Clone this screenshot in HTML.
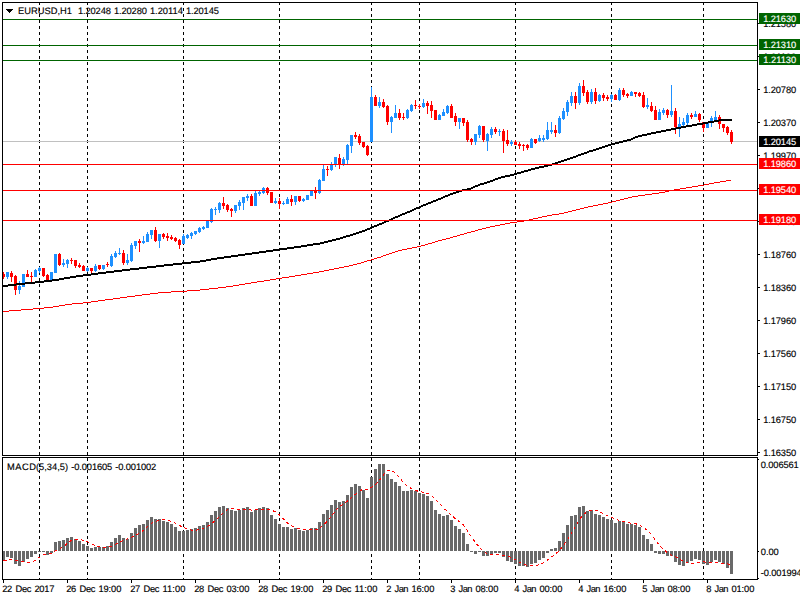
<!DOCTYPE html>
<html><head><meta charset="utf-8"><title>EURUSD,H1</title>
<style>html,body{margin:0;padding:0;background:#fff;overflow:hidden}svg{display:block}text{font-family:"Liberation Sans",sans-serif;font-size:9.33px;fill:#000;stroke:#000;stroke-width:0.15px;text-rendering:geometricPrecision}</style></head><body>
<svg width="800" height="600" viewBox="0 0 800 600">
<rect width="800" height="600" fill="#fff"/>
<g stroke="#000" stroke-width="1" stroke-dasharray="3,3" shape-rendering="crispEdges">
<line x1="39.5" y1="2" x2="39.5" y2="455"/>
<line x1="39.5" y1="458" x2="39.5" y2="579"/>
<line x1="87.5" y1="2" x2="87.5" y2="455"/>
<line x1="87.5" y1="458" x2="87.5" y2="579"/>
<line x1="183.5" y1="2" x2="183.5" y2="455"/>
<line x1="183.5" y1="458" x2="183.5" y2="579"/>
<line x1="279.5" y1="2" x2="279.5" y2="455"/>
<line x1="279.5" y1="458" x2="279.5" y2="579"/>
<line x1="371.5" y1="2" x2="371.5" y2="455"/>
<line x1="371.5" y1="458" x2="371.5" y2="579"/>
<line x1="419.5" y1="2" x2="419.5" y2="455"/>
<line x1="419.5" y1="458" x2="419.5" y2="579"/>
<line x1="515.5" y1="2" x2="515.5" y2="455"/>
<line x1="515.5" y1="458" x2="515.5" y2="579"/>
<line x1="611.5" y1="2" x2="611.5" y2="455"/>
<line x1="611.5" y1="458" x2="611.5" y2="579"/>
<line x1="703.5" y1="2" x2="703.5" y2="455"/>
<line x1="703.5" y1="458" x2="703.5" y2="579"/>
</g>
<rect x="3" y="141" width="754" height="1" fill="#c0c0c0" shape-rendering="crispEdges"/>
<g shape-rendering="crispEdges">
<rect x="3" y="272" width="1" height="7" fill="#ff0000"/>
<rect x="3" y="274" width="2" height="3" fill="#ff0000"/>
<rect x="7" y="272" width="1" height="7" fill="#1e90ff"/>
<rect x="6" y="272" width="3" height="5" fill="#1e90ff"/>
<rect x="11" y="271" width="1" height="11" fill="#ff0000"/>
<rect x="10" y="273" width="3" height="4" fill="#ff0000"/>
<rect x="15" y="275" width="1" height="20" fill="#ff0000"/>
<rect x="14" y="276" width="3" height="14" fill="#ff0000"/>
<rect x="19" y="281" width="1" height="13" fill="#1e90ff"/>
<rect x="18" y="286" width="3" height="4" fill="#1e90ff"/>
<rect x="23" y="274" width="1" height="13" fill="#1e90ff"/>
<rect x="22" y="274" width="3" height="13" fill="#1e90ff"/>
<rect x="27" y="270" width="1" height="7" fill="#ff0000"/>
<rect x="26" y="274" width="3" height="3" fill="#ff0000"/>
<rect x="31" y="272" width="1" height="10" fill="#ff0000"/>
<rect x="30" y="276" width="3" height="1" fill="#ff0000"/>
<rect x="35" y="269" width="1" height="8" fill="#1e90ff"/>
<rect x="34" y="270" width="3" height="7" fill="#1e90ff"/>
<rect x="39" y="267" width="1" height="6" fill="#1e90ff"/>
<rect x="38" y="268" width="3" height="3" fill="#1e90ff"/>
<rect x="43" y="268" width="1" height="9" fill="#ff0000"/>
<rect x="42" y="268" width="3" height="8" fill="#ff0000"/>
<rect x="47" y="274" width="1" height="6" fill="#ff0000"/>
<rect x="46" y="275" width="3" height="5" fill="#ff0000"/>
<rect x="51" y="272" width="1" height="8" fill="#1e90ff"/>
<rect x="50" y="272" width="3" height="8" fill="#1e90ff"/>
<rect x="55" y="254" width="1" height="19" fill="#1e90ff"/>
<rect x="54" y="254" width="3" height="19" fill="#1e90ff"/>
<rect x="59" y="253" width="1" height="13" fill="#ff0000"/>
<rect x="58" y="254" width="3" height="11" fill="#ff0000"/>
<rect x="63" y="259" width="1" height="8" fill="#1e90ff"/>
<rect x="62" y="263" width="3" height="2" fill="#1e90ff"/>
<rect x="67" y="259" width="1" height="9" fill="#1e90ff"/>
<rect x="66" y="260" width="3" height="4" fill="#1e90ff"/>
<rect x="71" y="258" width="1" height="6" fill="#ff0000"/>
<rect x="70" y="260" width="3" height="1" fill="#ff0000"/>
<rect x="75" y="260" width="1" height="8" fill="#ff0000"/>
<rect x="74" y="260" width="3" height="6" fill="#ff0000"/>
<rect x="79" y="263" width="1" height="5" fill="#ff0000"/>
<rect x="78" y="265" width="3" height="2" fill="#ff0000"/>
<rect x="83" y="265" width="1" height="6" fill="#ff0000"/>
<rect x="82" y="266" width="3" height="5" fill="#ff0000"/>
<rect x="87" y="267" width="1" height="5" fill="#1e90ff"/>
<rect x="86" y="268" width="3" height="3" fill="#1e90ff"/>
<rect x="91" y="268" width="1" height="5" fill="#ff0000"/>
<rect x="90" y="268" width="3" height="3" fill="#ff0000"/>
<rect x="95" y="264" width="1" height="8" fill="#1e90ff"/>
<rect x="94" y="266" width="3" height="5" fill="#1e90ff"/>
<rect x="99" y="265" width="1" height="5" fill="#ff0000"/>
<rect x="98" y="265" width="3" height="4" fill="#ff0000"/>
<rect x="103" y="265" width="1" height="5" fill="#1e90ff"/>
<rect x="102" y="265" width="3" height="4" fill="#1e90ff"/>
<rect x="107" y="262" width="1" height="5" fill="#ff0000"/>
<rect x="106" y="264" width="3" height="1" fill="#ff0000"/>
<rect x="111" y="254" width="1" height="13" fill="#1e90ff"/>
<rect x="110" y="256" width="3" height="10" fill="#1e90ff"/>
<rect x="115" y="251" width="1" height="7" fill="#1e90ff"/>
<rect x="114" y="253" width="3" height="4" fill="#1e90ff"/>
<rect x="119" y="248" width="1" height="7" fill="#1e90ff"/>
<rect x="118" y="253" width="3" height="1" fill="#1e90ff"/>
<rect x="123" y="250" width="1" height="15" fill="#ff0000"/>
<rect x="122" y="253" width="3" height="10" fill="#ff0000"/>
<rect x="127" y="254" width="1" height="11" fill="#1e90ff"/>
<rect x="126" y="260" width="3" height="3" fill="#1e90ff"/>
<rect x="131" y="243" width="1" height="19" fill="#1e90ff"/>
<rect x="130" y="245" width="3" height="16" fill="#1e90ff"/>
<rect x="135" y="241" width="1" height="8" fill="#1e90ff"/>
<rect x="134" y="241" width="3" height="5" fill="#1e90ff"/>
<rect x="139" y="239" width="1" height="13" fill="#ff0000"/>
<rect x="138" y="241" width="3" height="2" fill="#ff0000"/>
<rect x="143" y="236" width="1" height="8" fill="#1e90ff"/>
<rect x="142" y="241" width="3" height="2" fill="#1e90ff"/>
<rect x="147" y="232" width="1" height="10" fill="#1e90ff"/>
<rect x="146" y="234" width="3" height="8" fill="#1e90ff"/>
<rect x="151" y="230" width="1" height="9" fill="#1e90ff"/>
<rect x="150" y="230" width="3" height="5" fill="#1e90ff"/>
<rect x="155" y="227" width="1" height="15" fill="#ff0000"/>
<rect x="154" y="230" width="3" height="11" fill="#ff0000"/>
<rect x="159" y="234" width="1" height="14" fill="#1e90ff"/>
<rect x="158" y="234" width="3" height="7" fill="#1e90ff"/>
<rect x="163" y="233" width="1" height="6" fill="#ff0000"/>
<rect x="162" y="234" width="3" height="3" fill="#ff0000"/>
<rect x="167" y="233" width="1" height="8" fill="#ff0000"/>
<rect x="166" y="236" width="3" height="2" fill="#ff0000"/>
<rect x="171" y="235" width="1" height="5" fill="#ff0000"/>
<rect x="170" y="237" width="3" height="2" fill="#ff0000"/>
<rect x="175" y="237" width="1" height="5" fill="#ff0000"/>
<rect x="174" y="238" width="3" height="3" fill="#ff0000"/>
<rect x="179" y="239" width="1" height="10" fill="#ff0000"/>
<rect x="178" y="240" width="3" height="5" fill="#ff0000"/>
<rect x="183" y="234" width="1" height="10" fill="#1e90ff"/>
<rect x="182" y="236" width="3" height="8" fill="#1e90ff"/>
<rect x="187" y="234" width="1" height="5" fill="#1e90ff"/>
<rect x="186" y="235" width="3" height="3" fill="#1e90ff"/>
<rect x="191" y="232" width="1" height="7" fill="#1e90ff"/>
<rect x="190" y="233" width="3" height="3" fill="#1e90ff"/>
<rect x="195" y="231" width="1" height="4" fill="#1e90ff"/>
<rect x="194" y="231" width="3" height="3" fill="#1e90ff"/>
<rect x="199" y="227" width="1" height="6" fill="#1e90ff"/>
<rect x="198" y="228" width="3" height="4" fill="#1e90ff"/>
<rect x="203" y="226" width="1" height="4" fill="#1e90ff"/>
<rect x="202" y="227" width="3" height="2" fill="#1e90ff"/>
<rect x="207" y="221" width="1" height="7" fill="#1e90ff"/>
<rect x="206" y="221" width="3" height="7" fill="#1e90ff"/>
<rect x="211" y="208" width="1" height="15" fill="#1e90ff"/>
<rect x="210" y="209" width="3" height="13" fill="#1e90ff"/>
<rect x="215" y="207" width="1" height="8" fill="#1e90ff"/>
<rect x="214" y="209" width="3" height="1" fill="#1e90ff"/>
<rect x="219" y="202" width="1" height="11" fill="#1e90ff"/>
<rect x="218" y="203" width="3" height="7" fill="#1e90ff"/>
<rect x="223" y="197" width="1" height="12" fill="#ff0000"/>
<rect x="222" y="203" width="3" height="3" fill="#ff0000"/>
<rect x="227" y="204" width="1" height="8" fill="#ff0000"/>
<rect x="226" y="205" width="3" height="5" fill="#ff0000"/>
<rect x="231" y="208" width="1" height="9" fill="#ff0000"/>
<rect x="230" y="209" width="3" height="2" fill="#ff0000"/>
<rect x="235" y="205" width="1" height="8" fill="#1e90ff"/>
<rect x="234" y="205" width="3" height="6" fill="#1e90ff"/>
<rect x="239" y="200" width="1" height="10" fill="#1e90ff"/>
<rect x="238" y="202" width="3" height="4" fill="#1e90ff"/>
<rect x="243" y="197" width="1" height="13" fill="#1e90ff"/>
<rect x="242" y="197" width="3" height="6" fill="#1e90ff"/>
<rect x="247" y="194" width="1" height="7" fill="#1e90ff"/>
<rect x="246" y="196" width="3" height="2" fill="#1e90ff"/>
<rect x="251" y="194" width="1" height="12" fill="#ff0000"/>
<rect x="250" y="196" width="3" height="10" fill="#ff0000"/>
<rect x="255" y="191" width="1" height="15" fill="#1e90ff"/>
<rect x="254" y="193" width="3" height="13" fill="#1e90ff"/>
<rect x="259" y="191" width="1" height="5" fill="#1e90ff"/>
<rect x="258" y="192" width="3" height="2" fill="#1e90ff"/>
<rect x="263" y="187" width="1" height="7" fill="#1e90ff"/>
<rect x="262" y="188" width="3" height="5" fill="#1e90ff"/>
<rect x="267" y="187" width="1" height="8" fill="#ff0000"/>
<rect x="266" y="188" width="3" height="5" fill="#ff0000"/>
<rect x="271" y="192" width="1" height="11" fill="#ff0000"/>
<rect x="270" y="192" width="3" height="11" fill="#ff0000"/>
<rect x="275" y="198" width="1" height="6" fill="#1e90ff"/>
<rect x="274" y="201" width="3" height="2" fill="#1e90ff"/>
<rect x="279" y="198" width="1" height="11" fill="#ff0000"/>
<rect x="278" y="201" width="3" height="3" fill="#ff0000"/>
<rect x="283" y="201" width="1" height="4" fill="#1e90ff"/>
<rect x="282" y="203" width="3" height="1" fill="#1e90ff"/>
<rect x="287" y="197" width="1" height="7" fill="#1e90ff"/>
<rect x="286" y="199" width="3" height="5" fill="#1e90ff"/>
<rect x="291" y="195" width="1" height="11" fill="#ff0000"/>
<rect x="290" y="199" width="3" height="3" fill="#ff0000"/>
<rect x="295" y="196" width="1" height="9" fill="#1e90ff"/>
<rect x="294" y="196" width="3" height="6" fill="#1e90ff"/>
<rect x="299" y="196" width="1" height="6" fill="#ff0000"/>
<rect x="298" y="196" width="3" height="5" fill="#ff0000"/>
<rect x="303" y="198" width="1" height="4" fill="#1e90ff"/>
<rect x="302" y="199" width="3" height="2" fill="#1e90ff"/>
<rect x="307" y="195" width="1" height="5" fill="#1e90ff"/>
<rect x="306" y="195" width="3" height="5" fill="#1e90ff"/>
<rect x="311" y="191" width="1" height="5" fill="#1e90ff"/>
<rect x="310" y="191" width="3" height="5" fill="#1e90ff"/>
<rect x="315" y="187" width="1" height="12" fill="#ff0000"/>
<rect x="314" y="190" width="3" height="3" fill="#ff0000"/>
<rect x="319" y="179" width="1" height="15" fill="#1e90ff"/>
<rect x="318" y="180" width="3" height="13" fill="#1e90ff"/>
<rect x="323" y="165" width="1" height="16" fill="#1e90ff"/>
<rect x="322" y="169" width="3" height="12" fill="#1e90ff"/>
<rect x="327" y="166" width="1" height="10" fill="#ff0000"/>
<rect x="326" y="169" width="3" height="1" fill="#ff0000"/>
<rect x="331" y="162" width="1" height="9" fill="#1e90ff"/>
<rect x="330" y="165" width="3" height="5" fill="#1e90ff"/>
<rect x="335" y="157" width="1" height="10" fill="#1e90ff"/>
<rect x="334" y="157" width="3" height="7" fill="#1e90ff"/>
<rect x="339" y="154" width="1" height="15" fill="#ff0000"/>
<rect x="338" y="158" width="3" height="7" fill="#ff0000"/>
<rect x="343" y="157" width="1" height="9" fill="#1e90ff"/>
<rect x="342" y="159" width="3" height="5" fill="#1e90ff"/>
<rect x="347" y="144" width="1" height="20" fill="#1e90ff"/>
<rect x="346" y="145" width="3" height="15" fill="#1e90ff"/>
<rect x="351" y="135" width="1" height="18" fill="#1e90ff"/>
<rect x="350" y="135" width="3" height="11" fill="#1e90ff"/>
<rect x="355" y="132" width="1" height="7" fill="#ff0000"/>
<rect x="354" y="135" width="3" height="2" fill="#ff0000"/>
<rect x="359" y="134" width="1" height="11" fill="#ff0000"/>
<rect x="358" y="136" width="3" height="7" fill="#ff0000"/>
<rect x="363" y="142" width="1" height="6" fill="#ff0000"/>
<rect x="362" y="142" width="3" height="5" fill="#ff0000"/>
<rect x="367" y="145" width="1" height="11" fill="#ff0000"/>
<rect x="366" y="146" width="3" height="9" fill="#ff0000"/>
<rect x="371" y="87" width="1" height="55" fill="#1e90ff"/>
<rect x="370" y="97" width="3" height="45" fill="#1e90ff"/>
<rect x="375" y="95" width="1" height="11" fill="#ff0000"/>
<rect x="374" y="97" width="3" height="9" fill="#ff0000"/>
<rect x="379" y="97" width="1" height="11" fill="#1e90ff"/>
<rect x="378" y="102" width="3" height="4" fill="#1e90ff"/>
<rect x="383" y="99" width="1" height="9" fill="#ff0000"/>
<rect x="382" y="102" width="3" height="5" fill="#ff0000"/>
<rect x="387" y="105" width="1" height="20" fill="#ff0000"/>
<rect x="386" y="106" width="3" height="16" fill="#ff0000"/>
<rect x="391" y="116" width="1" height="17" fill="#1e90ff"/>
<rect x="390" y="117" width="3" height="5" fill="#1e90ff"/>
<rect x="395" y="105" width="1" height="13" fill="#1e90ff"/>
<rect x="394" y="113" width="3" height="5" fill="#1e90ff"/>
<rect x="399" y="109" width="1" height="11" fill="#ff0000"/>
<rect x="398" y="113" width="3" height="5" fill="#ff0000"/>
<rect x="403" y="113" width="1" height="7" fill="#ff0000"/>
<rect x="402" y="117" width="3" height="1" fill="#ff0000"/>
<rect x="407" y="109" width="1" height="10" fill="#1e90ff"/>
<rect x="406" y="110" width="3" height="8" fill="#1e90ff"/>
<rect x="411" y="104" width="1" height="8" fill="#1e90ff"/>
<rect x="410" y="105" width="3" height="6" fill="#1e90ff"/>
<rect x="415" y="100" width="1" height="9" fill="#ff0000"/>
<rect x="414" y="105" width="3" height="1" fill="#ff0000"/>
<rect x="419" y="104" width="1" height="5" fill="#ff0000"/>
<rect x="418" y="106" width="3" height="1" fill="#ff0000"/>
<rect x="423" y="99" width="1" height="9" fill="#1e90ff"/>
<rect x="422" y="103" width="3" height="4" fill="#1e90ff"/>
<rect x="427" y="101" width="1" height="13" fill="#ff0000"/>
<rect x="426" y="103" width="3" height="3" fill="#ff0000"/>
<rect x="431" y="101" width="1" height="17" fill="#ff0000"/>
<rect x="430" y="105" width="3" height="6" fill="#ff0000"/>
<rect x="435" y="110" width="1" height="10" fill="#ff0000"/>
<rect x="434" y="110" width="3" height="10" fill="#ff0000"/>
<rect x="439" y="114" width="1" height="6" fill="#1e90ff"/>
<rect x="438" y="115" width="3" height="5" fill="#1e90ff"/>
<rect x="443" y="109" width="1" height="7" fill="#1e90ff"/>
<rect x="442" y="112" width="3" height="4" fill="#1e90ff"/>
<rect x="447" y="105" width="1" height="9" fill="#1e90ff"/>
<rect x="446" y="106" width="3" height="7" fill="#1e90ff"/>
<rect x="451" y="104" width="1" height="14" fill="#ff0000"/>
<rect x="450" y="106" width="3" height="12" fill="#ff0000"/>
<rect x="455" y="113" width="1" height="13" fill="#ff0000"/>
<rect x="454" y="116" width="3" height="6" fill="#ff0000"/>
<rect x="459" y="118" width="1" height="11" fill="#1e90ff"/>
<rect x="458" y="118" width="3" height="4" fill="#1e90ff"/>
<rect x="463" y="118" width="1" height="8" fill="#ff0000"/>
<rect x="462" y="118" width="3" height="5" fill="#ff0000"/>
<rect x="467" y="120" width="1" height="22" fill="#ff0000"/>
<rect x="466" y="122" width="3" height="18" fill="#ff0000"/>
<rect x="471" y="138" width="1" height="7" fill="#ff0000"/>
<rect x="470" y="139" width="3" height="3" fill="#ff0000"/>
<rect x="475" y="134" width="1" height="11" fill="#1e90ff"/>
<rect x="474" y="134" width="3" height="8" fill="#1e90ff"/>
<rect x="479" y="125" width="1" height="13" fill="#1e90ff"/>
<rect x="478" y="126" width="3" height="9" fill="#1e90ff"/>
<rect x="483" y="126" width="1" height="16" fill="#ff0000"/>
<rect x="482" y="126" width="3" height="14" fill="#ff0000"/>
<rect x="487" y="133" width="1" height="18" fill="#1e90ff"/>
<rect x="486" y="134" width="3" height="7" fill="#1e90ff"/>
<rect x="491" y="127" width="1" height="11" fill="#1e90ff"/>
<rect x="490" y="129" width="3" height="6" fill="#1e90ff"/>
<rect x="495" y="127" width="1" height="7" fill="#ff0000"/>
<rect x="494" y="129" width="3" height="3" fill="#ff0000"/>
<rect x="499" y="129" width="1" height="7" fill="#1e90ff"/>
<rect x="498" y="131" width="3" height="1" fill="#1e90ff"/>
<rect x="503" y="129" width="1" height="24" fill="#ff0000"/>
<rect x="502" y="131" width="3" height="10" fill="#ff0000"/>
<rect x="507" y="130" width="1" height="16" fill="#ff0000"/>
<rect x="506" y="140" width="3" height="4" fill="#ff0000"/>
<rect x="511" y="140" width="1" height="6" fill="#1e90ff"/>
<rect x="510" y="142" width="3" height="2" fill="#1e90ff"/>
<rect x="515" y="140" width="1" height="5" fill="#ff0000"/>
<rect x="514" y="142" width="3" height="3" fill="#ff0000"/>
<rect x="519" y="142" width="1" height="7" fill="#ff0000"/>
<rect x="518" y="144" width="3" height="2" fill="#ff0000"/>
<rect x="523" y="144" width="1" height="7" fill="#ff0000"/>
<rect x="522" y="145" width="3" height="1" fill="#ff0000"/>
<rect x="527" y="144" width="1" height="6" fill="#ff0000"/>
<rect x="526" y="145" width="3" height="3" fill="#ff0000"/>
<rect x="531" y="138" width="1" height="10" fill="#1e90ff"/>
<rect x="530" y="139" width="3" height="9" fill="#1e90ff"/>
<rect x="535" y="139" width="1" height="5" fill="#ff0000"/>
<rect x="534" y="139" width="3" height="4" fill="#ff0000"/>
<rect x="539" y="135" width="1" height="7" fill="#1e90ff"/>
<rect x="538" y="138" width="3" height="3" fill="#1e90ff"/>
<rect x="543" y="135" width="1" height="7" fill="#1e90ff"/>
<rect x="542" y="138" width="3" height="2" fill="#1e90ff"/>
<rect x="547" y="122" width="1" height="18" fill="#1e90ff"/>
<rect x="546" y="130" width="3" height="9" fill="#1e90ff"/>
<rect x="551" y="122" width="1" height="12" fill="#1e90ff"/>
<rect x="550" y="130" width="3" height="2" fill="#1e90ff"/>
<rect x="555" y="125" width="1" height="12" fill="#ff0000"/>
<rect x="554" y="130" width="3" height="3" fill="#ff0000"/>
<rect x="559" y="116" width="1" height="18" fill="#1e90ff"/>
<rect x="558" y="118" width="3" height="15" fill="#1e90ff"/>
<rect x="563" y="108" width="1" height="12" fill="#1e90ff"/>
<rect x="562" y="111" width="3" height="8" fill="#1e90ff"/>
<rect x="567" y="100" width="1" height="16" fill="#1e90ff"/>
<rect x="566" y="102" width="3" height="10" fill="#1e90ff"/>
<rect x="571" y="92" width="1" height="14" fill="#1e90ff"/>
<rect x="570" y="96" width="3" height="7" fill="#1e90ff"/>
<rect x="575" y="92" width="1" height="17" fill="#ff0000"/>
<rect x="574" y="96" width="3" height="7" fill="#ff0000"/>
<rect x="579" y="83" width="1" height="22" fill="#1e90ff"/>
<rect x="578" y="86" width="3" height="17" fill="#1e90ff"/>
<rect x="583" y="80" width="1" height="16" fill="#ff0000"/>
<rect x="582" y="86" width="3" height="7" fill="#ff0000"/>
<rect x="587" y="90" width="1" height="14" fill="#ff0000"/>
<rect x="586" y="92" width="3" height="10" fill="#ff0000"/>
<rect x="591" y="89" width="1" height="15" fill="#1e90ff"/>
<rect x="590" y="92" width="3" height="10" fill="#1e90ff"/>
<rect x="595" y="88" width="1" height="16" fill="#ff0000"/>
<rect x="594" y="92" width="3" height="9" fill="#ff0000"/>
<rect x="599" y="94" width="1" height="8" fill="#1e90ff"/>
<rect x="598" y="95" width="3" height="6" fill="#1e90ff"/>
<rect x="603" y="93" width="1" height="8" fill="#ff0000"/>
<rect x="602" y="95" width="3" height="3" fill="#ff0000"/>
<rect x="607" y="95" width="1" height="6" fill="#ff0000"/>
<rect x="606" y="97" width="3" height="2" fill="#ff0000"/>
<rect x="611" y="94" width="1" height="8" fill="#1e90ff"/>
<rect x="610" y="95" width="3" height="4" fill="#1e90ff"/>
<rect x="615" y="94" width="1" height="6" fill="#ff0000"/>
<rect x="614" y="95" width="3" height="5" fill="#ff0000"/>
<rect x="619" y="88" width="1" height="13" fill="#1e90ff"/>
<rect x="618" y="90" width="3" height="10" fill="#1e90ff"/>
<rect x="623" y="88" width="1" height="9" fill="#ff0000"/>
<rect x="622" y="90" width="3" height="5" fill="#ff0000"/>
<rect x="627" y="93" width="1" height="5" fill="#ff0000"/>
<rect x="626" y="94" width="3" height="2" fill="#ff0000"/>
<rect x="631" y="91" width="1" height="5" fill="#1e90ff"/>
<rect x="630" y="92" width="3" height="4" fill="#1e90ff"/>
<rect x="635" y="92" width="1" height="5" fill="#ff0000"/>
<rect x="634" y="92" width="3" height="2" fill="#ff0000"/>
<rect x="639" y="92" width="1" height="5" fill="#ff0000"/>
<rect x="638" y="93" width="3" height="3" fill="#ff0000"/>
<rect x="643" y="92" width="1" height="16" fill="#ff0000"/>
<rect x="642" y="95" width="3" height="12" fill="#ff0000"/>
<rect x="647" y="98" width="1" height="11" fill="#1e90ff"/>
<rect x="646" y="105" width="3" height="2" fill="#1e90ff"/>
<rect x="651" y="102" width="1" height="10" fill="#ff0000"/>
<rect x="650" y="106" width="3" height="5" fill="#ff0000"/>
<rect x="655" y="106" width="1" height="14" fill="#ff0000"/>
<rect x="654" y="110" width="3" height="10" fill="#ff0000"/>
<rect x="659" y="109" width="1" height="11" fill="#1e90ff"/>
<rect x="658" y="112" width="3" height="8" fill="#1e90ff"/>
<rect x="663" y="108" width="1" height="7" fill="#1e90ff"/>
<rect x="662" y="110" width="3" height="3" fill="#1e90ff"/>
<rect x="667" y="109" width="1" height="9" fill="#ff0000"/>
<rect x="666" y="110" width="3" height="5" fill="#ff0000"/>
<rect x="671" y="85" width="1" height="32" fill="#1e90ff"/>
<rect x="670" y="111" width="3" height="4" fill="#1e90ff"/>
<rect x="675" y="108" width="1" height="26" fill="#ff0000"/>
<rect x="674" y="111" width="3" height="16" fill="#ff0000"/>
<rect x="679" y="117" width="1" height="20" fill="#1e90ff"/>
<rect x="678" y="124" width="3" height="3" fill="#1e90ff"/>
<rect x="683" y="118" width="1" height="8" fill="#1e90ff"/>
<rect x="682" y="122" width="3" height="3" fill="#1e90ff"/>
<rect x="687" y="113" width="1" height="12" fill="#1e90ff"/>
<rect x="686" y="115" width="3" height="8" fill="#1e90ff"/>
<rect x="691" y="113" width="1" height="6" fill="#ff0000"/>
<rect x="690" y="115" width="3" height="2" fill="#ff0000"/>
<rect x="695" y="111" width="1" height="6" fill="#1e90ff"/>
<rect x="694" y="114" width="3" height="3" fill="#1e90ff"/>
<rect x="699" y="113" width="1" height="9" fill="#ff0000"/>
<rect x="698" y="114" width="3" height="6" fill="#ff0000"/>
<rect x="703" y="122" width="1" height="10" fill="#ff0000"/>
<rect x="702" y="122" width="3" height="6" fill="#ff0000"/>
<rect x="707" y="122" width="1" height="6" fill="#1e90ff"/>
<rect x="706" y="123" width="3" height="5" fill="#1e90ff"/>
<rect x="711" y="116" width="1" height="11" fill="#1e90ff"/>
<rect x="710" y="118" width="3" height="5" fill="#1e90ff"/>
<rect x="715" y="111" width="1" height="9" fill="#1e90ff"/>
<rect x="714" y="117" width="3" height="3" fill="#1e90ff"/>
<rect x="719" y="115" width="1" height="14" fill="#ff0000"/>
<rect x="718" y="117" width="3" height="7" fill="#ff0000"/>
<rect x="723" y="124" width="1" height="8" fill="#ff0000"/>
<rect x="722" y="124" width="3" height="4" fill="#ff0000"/>
<rect x="727" y="126" width="1" height="9" fill="#ff0000"/>
<rect x="726" y="127" width="3" height="6" fill="#ff0000"/>
<rect x="731" y="130" width="1" height="14" fill="#ff0000"/>
<rect x="730" y="132" width="3" height="10" fill="#ff0000"/>
</g>
<path d="M3,311h6v1h-6zM9,310h12v1h-12zM21,309h12v1h-12zM33,308h11v1h-11zM44,307h9v1h-9zM53,306h6v1h-6zM59,305h6v1h-6zM65,304h7v1h-7zM72,303h11v1h-11zM83,302h8v1h-8zM91,301h7v1h-7zM98,300h7v1h-7zM105,299h8v1h-8zM113,298h7v1h-7zM120,297h7v1h-7zM127,296h8v1h-8zM135,295h7v1h-7zM142,294h8v1h-8zM150,293h8v1h-8zM158,292h13v1h-13zM171,291h16v1h-16zM187,290h13v1h-13zM200,289h9v1h-9zM209,288h9v1h-9zM218,287h8v1h-8zM226,286h7v1h-7zM233,285h6v1h-6zM239,284h6v1h-6zM245,283h6v1h-6zM251,282h6v1h-6zM257,281h7v1h-7zM264,280h6v1h-6zM270,279h6v1h-6zM276,278h6v1h-6zM282,277h7v1h-7zM289,276h6v1h-6zM295,275h6v1h-6zM301,274h6v1h-6zM307,273h6v1h-6zM313,272h6v1h-6zM319,271h5v1h-5zM324,270h5v1h-5zM329,269h5v1h-5zM334,268h5v1h-5zM339,267h5v1h-5zM344,266h5v1h-5zM349,265h4v1h-4zM353,264h4v1h-4zM357,263h4v1h-4zM361,262h3v1h-3zM364,261h3v1h-3zM367,260h4v1h-4zM371,259h3v1h-3zM374,258h3v1h-3zM377,257h4v1h-4zM381,256h2v1h-2zM383,255h3v1h-3zM386,254h3v1h-3zM389,253h3v1h-3zM392,252h3v1h-3zM395,251h3v1h-3zM398,250h4v1h-4zM402,249h5v1h-5zM407,248h5v1h-5zM412,247h5v1h-5zM417,246h4v1h-4zM421,245h4v1h-4zM425,244h3v1h-3zM428,243h4v1h-4zM432,242h3v1h-3zM435,241h3v1h-3zM438,240h4v1h-4zM442,239h4v1h-4zM446,238h4v1h-4zM450,237h3v1h-3zM453,236h4v1h-4zM457,235h3v1h-3zM460,234h4v1h-4zM464,233h3v1h-3zM467,232h4v1h-4zM471,231h4v1h-4zM475,230h3v1h-3zM478,229h4v1h-4zM482,228h4v1h-4zM486,227h4v1h-4zM490,226h5v1h-5zM495,225h5v1h-5zM500,224h5v1h-5zM505,223h5v1h-5zM510,222h7v1h-7zM517,221h7v1h-7zM524,220h5v1h-5zM529,219h4v1h-4zM533,218h5v1h-5zM538,217h4v1h-4zM542,216h5v1h-5zM547,215h5v1h-5zM552,214h7v1h-7zM559,213h5v1h-5zM564,212h4v1h-4zM568,211h4v1h-4zM572,210h4v1h-4zM576,209h4v1h-4zM580,208h4v1h-4zM584,207h4v1h-4zM588,206h5v1h-5zM593,205h5v1h-5zM598,204h5v1h-5zM603,203h5v1h-5zM608,202h4v1h-4zM612,201h4v1h-4zM616,200h4v1h-4zM620,199h4v1h-4zM624,198h4v1h-4zM628,197h4v1h-4zM632,196h6v1h-6zM638,195h7v1h-7zM645,194h7v1h-7zM652,193h7v1h-7zM659,192h6v1h-6zM665,191h4v1h-4zM669,190h5v1h-5zM674,189h6v1h-6zM680,188h6v1h-6zM686,187h6v1h-6zM692,186h6v1h-6zM698,185h6v1h-6zM704,184h5v1h-5zM709,183h5v1h-5zM714,182h6v1h-6zM720,181h6v1h-6zM726,180h5v1h-5z" fill="#ff0000" shape-rendering="crispEdges"/>
<path d="M3,285h5v2h-5zM8,284h8v2h-8zM16,283h9v2h-9zM25,282h10v2h-10zM35,281h9v2h-9zM44,280h8v2h-8zM52,279h7v2h-7zM59,278h5v2h-5zM64,277h6v2h-6zM70,276h6v2h-6zM76,275h7v2h-7zM83,274h8v2h-8zM91,273h7v2h-7zM98,272h8v2h-8zM106,271h8v2h-8zM114,270h8v2h-8zM122,269h8v2h-8zM130,268h9v2h-9zM139,267h8v2h-8zM147,266h9v2h-9zM156,265h8v2h-8zM164,264h9v2h-9zM173,263h9v2h-9zM182,262h9v2h-9zM191,261h9v2h-9zM200,260h6v2h-6zM206,259h5v2h-5zM211,258h6v2h-6zM217,257h7v2h-7zM224,256h7v2h-7zM231,255h7v2h-7zM238,254h7v2h-7zM245,253h7v2h-7zM252,252h7v2h-7zM259,251h7v2h-7zM266,250h7v2h-7zM273,249h7v2h-7zM280,248h7v2h-7zM287,247h7v2h-7zM294,246h7v2h-7zM301,245h6v2h-6zM307,244h6v2h-6zM313,243h7v2h-7zM320,242h4v2h-4zM324,241h4v2h-4zM328,240h4v2h-4zM332,239h4v2h-4zM336,238h4v2h-4zM340,237h3v2h-3zM343,236h3v2h-3zM346,235h4v2h-4zM350,234h3v2h-3zM353,233h3v2h-3zM356,232h3v2h-3zM359,231h3v2h-3zM362,230h3v2h-3zM365,229h2v2h-2zM367,228h3v2h-3zM370,227h2v2h-2zM372,226h2v2h-2zM374,225h3v2h-3zM377,224h2v2h-2zM379,223h3v2h-3zM382,222h2v2h-2zM384,221h2v2h-2zM386,220h3v2h-3zM389,219h2v2h-2zM391,218h2v2h-2zM393,217h2v2h-2zM395,216h3v2h-3zM398,215h2v2h-2zM400,214h2v2h-2zM402,213h3v2h-3zM405,212h2v2h-2zM407,211h3v2h-3zM410,210h2v2h-2zM412,209h2v2h-2zM414,208h2v2h-2zM416,207h3v2h-3zM419,206h2v2h-2zM421,205h2v2h-2zM423,204h3v2h-3zM426,203h2v2h-2zM428,202h3v2h-3zM431,201h2v2h-2zM433,200h3v2h-3zM436,199h2v2h-2zM438,198h3v2h-3zM441,197h2v2h-2zM443,196h2v2h-2zM445,195h3v2h-3zM448,194h2v2h-2zM450,193h3v2h-3zM453,192h3v2h-3zM456,191h3v2h-3zM459,190h3v2h-3zM462,189h5v2h-5zM467,188h4v2h-4zM471,187h2v2h-2zM473,186h2v2h-2zM475,185h3v2h-3zM478,184h2v2h-2zM480,183h4v2h-4zM484,182h3v2h-3zM487,181h3v2h-3zM490,180h3v2h-3zM493,179h2v2h-2zM495,178h3v2h-3zM498,177h3v2h-3zM501,176h4v2h-4zM505,175h5v2h-5zM510,174h4v2h-4zM514,173h3v2h-3zM517,172h4v2h-4zM521,171h3v2h-3zM524,170h4v2h-4zM528,169h3v2h-3zM531,168h4v2h-4zM535,167h4v2h-4zM539,166h5v2h-5zM544,165h4v2h-4zM548,164h4v2h-4zM552,163h3v2h-3zM555,162h3v2h-3zM558,161h3v2h-3zM561,160h3v2h-3zM564,159h3v2h-3zM567,158h3v2h-3zM570,157h3v2h-3zM573,156h3v2h-3zM576,155h2v2h-2zM578,154h3v2h-3zM581,153h3v2h-3zM584,152h3v2h-3zM587,151h2v2h-2zM589,150h4v2h-4zM593,149h3v2h-3zM596,148h3v2h-3zM599,147h3v2h-3zM602,146h3v2h-3zM605,145h3v2h-3zM608,144h3v2h-3zM611,143h4v2h-4zM615,142h4v2h-4zM619,141h4v2h-4zM623,140h4v2h-4zM627,139h4v2h-4zM631,138h2v2h-2zM633,137h2v2h-2zM635,136h3v2h-3zM638,135h4v2h-4zM642,134h5v2h-5zM647,133h4v2h-4zM651,132h5v2h-5zM656,131h5v2h-5zM661,130h5v2h-5zM666,129h5v2h-5zM671,128h5v2h-5zM676,127h5v2h-5zM681,126h5v2h-5zM686,125h6v2h-6zM692,124h5v2h-5zM697,123h6v2h-6zM703,122h5v2h-5zM708,121h6v2h-6zM714,120h5v2h-5zM719,119h13v2h-13z" fill="#000" shape-rendering="crispEdges"/>
<g shape-rendering="crispEdges">
<rect x="3" y="19" width="754" height="1" fill="#006400"/>
<rect x="3" y="45" width="754" height="1" fill="#006400"/>
<rect x="3" y="60" width="754" height="1" fill="#006400"/>
<rect x="3" y="164" width="754" height="1" fill="#ff0000"/>
<rect x="3" y="190" width="754" height="1" fill="#ff0000"/>
<rect x="3" y="220" width="754" height="1" fill="#ff0000"/>
</g>
<g shape-rendering="crispEdges" fill="#696969">
<rect x="3" y="551" width="2" height="9"/>
<rect x="6" y="551" width="3" height="6"/>
<rect x="10" y="551" width="3" height="7"/>
<rect x="14" y="551" width="3" height="13"/>
<rect x="18" y="551" width="3" height="15"/>
<rect x="22" y="551" width="3" height="11"/>
<rect x="26" y="551" width="3" height="8"/>
<rect x="30" y="551" width="3" height="6"/>
<rect x="34" y="551" width="3" height="3"/>
<rect x="38" y="551" width="3" height="1"/>
<rect x="42" y="551" width="3" height="1"/>
<rect x="46" y="551" width="3" height="4"/>
<rect x="50" y="551" width="3" height="2"/>
<rect x="54" y="542" width="3" height="9"/>
<rect x="58" y="541" width="3" height="10"/>
<rect x="62" y="540" width="3" height="11"/>
<rect x="66" y="538" width="3" height="13"/>
<rect x="70" y="537" width="3" height="14"/>
<rect x="74" y="539" width="3" height="12"/>
<rect x="78" y="541" width="3" height="10"/>
<rect x="82" y="544" width="3" height="7"/>
<rect x="86" y="546" width="3" height="5"/>
<rect x="90" y="548" width="3" height="3"/>
<rect x="94" y="547" width="3" height="4"/>
<rect x="98" y="547" width="3" height="4"/>
<rect x="102" y="547" width="3" height="4"/>
<rect x="106" y="546" width="3" height="5"/>
<rect x="110" y="542" width="3" height="9"/>
<rect x="114" y="538" width="3" height="13"/>
<rect x="118" y="535" width="3" height="16"/>
<rect x="122" y="538" width="3" height="13"/>
<rect x="126" y="539" width="3" height="12"/>
<rect x="130" y="533" width="3" height="18"/>
<rect x="134" y="528" width="3" height="23"/>
<rect x="138" y="525" width="3" height="26"/>
<rect x="142" y="524" width="3" height="27"/>
<rect x="146" y="520" width="3" height="31"/>
<rect x="150" y="517" width="3" height="34"/>
<rect x="154" y="519" width="3" height="32"/>
<rect x="158" y="519" width="3" height="32"/>
<rect x="162" y="521" width="3" height="30"/>
<rect x="166" y="522" width="3" height="29"/>
<rect x="170" y="524" width="3" height="27"/>
<rect x="174" y="527" width="3" height="24"/>
<rect x="178" y="531" width="3" height="20"/>
<rect x="182" y="531" width="3" height="20"/>
<rect x="186" y="530" width="3" height="21"/>
<rect x="190" y="529" width="3" height="22"/>
<rect x="194" y="528" width="3" height="23"/>
<rect x="198" y="526" width="3" height="25"/>
<rect x="202" y="525" width="3" height="26"/>
<rect x="206" y="522" width="3" height="29"/>
<rect x="210" y="515" width="3" height="36"/>
<rect x="214" y="511" width="3" height="40"/>
<rect x="218" y="507" width="3" height="44"/>
<rect x="222" y="506" width="3" height="45"/>
<rect x="226" y="508" width="3" height="43"/>
<rect x="230" y="510" width="3" height="41"/>
<rect x="234" y="511" width="3" height="40"/>
<rect x="238" y="510" width="3" height="41"/>
<rect x="242" y="508" width="3" height="43"/>
<rect x="246" y="507" width="3" height="44"/>
<rect x="250" y="512" width="3" height="39"/>
<rect x="254" y="510" width="3" height="41"/>
<rect x="258" y="508" width="3" height="43"/>
<rect x="262" y="507" width="3" height="44"/>
<rect x="266" y="508" width="3" height="43"/>
<rect x="270" y="515" width="3" height="36"/>
<rect x="274" y="519" width="3" height="32"/>
<rect x="278" y="524" width="3" height="27"/>
<rect x="282" y="527" width="3" height="24"/>
<rect x="286" y="527" width="3" height="24"/>
<rect x="290" y="529" width="3" height="22"/>
<rect x="294" y="528" width="3" height="23"/>
<rect x="298" y="530" width="3" height="21"/>
<rect x="302" y="531" width="3" height="20"/>
<rect x="306" y="530" width="3" height="21"/>
<rect x="310" y="528" width="3" height="23"/>
<rect x="314" y="528" width="3" height="23"/>
<rect x="318" y="522" width="3" height="29"/>
<rect x="322" y="514" width="3" height="37"/>
<rect x="326" y="510" width="3" height="41"/>
<rect x="330" y="505" width="3" height="46"/>
<rect x="334" y="500" width="3" height="51"/>
<rect x="338" y="502" width="3" height="49"/>
<rect x="342" y="501" width="3" height="50"/>
<rect x="346" y="495" width="3" height="56"/>
<rect x="350" y="487" width="3" height="64"/>
<rect x="354" y="484" width="3" height="67"/>
<rect x="358" y="486" width="3" height="65"/>
<rect x="362" y="490" width="3" height="61"/>
<rect x="366" y="498" width="3" height="53"/>
<rect x="370" y="477" width="3" height="74"/>
<rect x="374" y="469" width="3" height="82"/>
<rect x="378" y="464" width="3" height="87"/>
<rect x="382" y="464" width="3" height="87"/>
<rect x="386" y="474" width="3" height="77"/>
<rect x="390" y="479" width="3" height="72"/>
<rect x="394" y="482" width="3" height="69"/>
<rect x="398" y="486" width="3" height="65"/>
<rect x="402" y="491" width="3" height="60"/>
<rect x="406" y="491" width="3" height="60"/>
<rect x="410" y="490" width="3" height="61"/>
<rect x="414" y="491" width="3" height="60"/>
<rect x="418" y="493" width="3" height="58"/>
<rect x="422" y="494" width="3" height="57"/>
<rect x="426" y="496" width="3" height="55"/>
<rect x="430" y="501" width="3" height="50"/>
<rect x="434" y="510" width="3" height="41"/>
<rect x="438" y="514" width="3" height="37"/>
<rect x="442" y="516" width="3" height="35"/>
<rect x="446" y="515" width="3" height="36"/>
<rect x="450" y="520" width="3" height="31"/>
<rect x="454" y="526" width="3" height="25"/>
<rect x="458" y="529" width="3" height="22"/>
<rect x="462" y="533" width="3" height="18"/>
<rect x="466" y="544" width="3" height="7"/>
<rect x="470" y="551" width="3" height="1"/>
<rect x="474" y="551" width="3" height="3"/>
<rect x="478" y="551" width="3" height="1"/>
<rect x="482" y="551" width="3" height="5"/>
<rect x="486" y="551" width="3" height="5"/>
<rect x="490" y="551" width="3" height="3"/>
<rect x="494" y="551" width="3" height="2"/>
<rect x="498" y="551" width="3" height="2"/>
<rect x="502" y="551" width="3" height="6"/>
<rect x="506" y="551" width="3" height="10"/>
<rect x="510" y="551" width="3" height="11"/>
<rect x="514" y="551" width="3" height="13"/>
<rect x="518" y="551" width="3" height="15"/>
<rect x="522" y="551" width="3" height="15"/>
<rect x="526" y="551" width="3" height="16"/>
<rect x="530" y="551" width="3" height="13"/>
<rect x="534" y="551" width="3" height="12"/>
<rect x="538" y="551" width="3" height="9"/>
<rect x="542" y="551" width="3" height="7"/>
<rect x="546" y="551" width="3" height="2"/>
<rect x="550" y="549" width="3" height="2"/>
<rect x="554" y="548" width="3" height="3"/>
<rect x="558" y="541" width="3" height="10"/>
<rect x="562" y="533" width="3" height="18"/>
<rect x="566" y="525" width="3" height="26"/>
<rect x="570" y="516" width="3" height="35"/>
<rect x="574" y="515" width="3" height="36"/>
<rect x="578" y="507" width="3" height="44"/>
<rect x="582" y="506" width="3" height="45"/>
<rect x="586" y="511" width="3" height="40"/>
<rect x="590" y="510" width="3" height="41"/>
<rect x="594" y="514" width="3" height="37"/>
<rect x="598" y="515" width="3" height="36"/>
<rect x="602" y="517" width="3" height="34"/>
<rect x="606" y="519" width="3" height="32"/>
<rect x="610" y="520" width="3" height="31"/>
<rect x="614" y="523" width="3" height="28"/>
<rect x="618" y="521" width="3" height="30"/>
<rect x="622" y="522" width="3" height="29"/>
<rect x="626" y="524" width="3" height="27"/>
<rect x="630" y="524" width="3" height="27"/>
<rect x="634" y="525" width="3" height="26"/>
<rect x="638" y="527" width="3" height="24"/>
<rect x="642" y="535" width="3" height="16"/>
<rect x="646" y="539" width="3" height="12"/>
<rect x="650" y="544" width="3" height="7"/>
<rect x="654" y="551" width="3" height="2"/>
<rect x="658" y="551" width="3" height="3"/>
<rect x="662" y="551" width="3" height="3"/>
<rect x="666" y="551" width="3" height="5"/>
<rect x="670" y="551" width="3" height="5"/>
<rect x="674" y="551" width="3" height="11"/>
<rect x="678" y="551" width="3" height="14"/>
<rect x="682" y="551" width="3" height="15"/>
<rect x="686" y="551" width="3" height="12"/>
<rect x="690" y="551" width="3" height="10"/>
<rect x="694" y="551" width="3" height="8"/>
<rect x="698" y="551" width="3" height="9"/>
<rect x="702" y="551" width="3" height="13"/>
<rect x="706" y="551" width="3" height="14"/>
<rect x="710" y="551" width="3" height="11"/>
<rect x="714" y="551" width="3" height="9"/>
<rect x="718" y="551" width="3" height="11"/>
<rect x="722" y="551" width="3" height="13"/>
<rect x="726" y="551" width="3" height="17"/>
<rect x="730" y="551" width="3" height="23"/>
</g>
<polyline points="3.5,560.5 7.5,559.9 11.5,559.5 15.5,560.3 19.5,561.5 23.5,561.9 27.5,562.3 31.5,562.1 35.5,560.1 39.5,557.1 43.5,554.9 47.5,554.1 51.5,553.3 55.5,550.9 59.5,548.9 63.5,546.7 67.5,543.3 71.5,540.1 75.5,539.5 79.5,539.5 83.5,540.3 87.5,541.9 91.5,544.1 95.5,545.7 99.5,546.9 103.5,547.5 107.5,547.5 111.5,546.3 115.5,544.5 119.5,542.1 123.5,540.3 127.5,538.9 131.5,537.1 135.5,535.1 139.5,533.1 143.5,530.3 147.5,526.5 151.5,523.3 155.5,521.5 159.5,520.3 163.5,519.7 167.5,520.1 171.5,521.5 175.5,523.1 179.5,525.5 183.5,527.5 187.5,529.1 191.5,530.1 195.5,530.3 199.5,529.3 203.5,528.1 207.5,526.5 211.5,523.7 215.5,520.3 219.5,516.5 223.5,512.7 227.5,509.9 231.5,508.9 235.5,508.9 239.5,509.5 243.5,509.9 247.5,509.7 251.5,510.1 255.5,509.9 259.5,509.5 263.5,509.3 267.5,509.5 271.5,510.1 275.5,511.9 279.5,515.1 283.5,519.1 287.5,522.9 291.5,525.7 295.5,527.5 299.5,528.7 303.5,529.5 307.5,530.1 311.5,529.9 315.5,529.9 319.5,528.3 323.5,524.9 327.5,520.9 331.5,516.3 335.5,510.7 339.5,506.7 343.5,504.1 347.5,501.1 351.5,497.5 355.5,494.3 359.5,491.1 363.5,488.9 367.5,489.5 371.5,487.5 375.5,484.5 379.5,480.1 383.5,474.9 387.5,470.1 391.5,470.5 395.5,473.1 399.5,477.5 403.5,482.9 407.5,486.3 411.5,488.5 415.5,490.3 419.5,491.7 423.5,492.3 427.5,493.3 431.5,495.5 435.5,499.3 439.5,503.5 443.5,507.9 447.5,511.7 451.5,515.5 455.5,518.7 459.5,521.7 463.5,525.1 467.5,530.9 471.5,537.1 475.5,542.7 479.5,547.1 483.5,551.7 487.5,554.1 491.5,554.7 495.5,554.5 499.5,554.9 503.5,555.1 507.5,556.1 511.5,557.7 515.5,559.9 519.5,562.5 523.5,564.3 527.5,565.5 531.5,565.9 535.5,565.7 539.5,564.5 543.5,562.9 547.5,560.1 551.5,557.1 555.5,554.1 559.5,550.3 563.5,545.3 567.5,539.7 571.5,533.1 575.5,526.5 579.5,519.7 583.5,514.3 587.5,511.5 591.5,510.3 595.5,510.1 599.5,511.7 603.5,513.9 607.5,515.5 611.5,517.5 615.5,519.3 619.5,520.5 623.5,521.5 627.5,522.5 631.5,523.3 635.5,523.7 639.5,524.9 643.5,527.5 647.5,530.5 651.5,534.5 655.5,540.1 659.5,545.5 663.5,549.3 667.5,552.7 671.5,555.1 675.5,556.9 679.5,559.1 683.5,561.5 687.5,562.9 691.5,563.9 695.5,563.3 699.5,562.3 703.5,561.9 707.5,562.3 711.5,562.5 715.5,562.7 719.5,563.1 723.5,563.1 727.5,563.7 731.5,566.1" fill="none" stroke="#ff0000" stroke-width="1" stroke-dasharray="3,3" shape-rendering="crispEdges"/>
<g fill="#000" shape-rendering="crispEdges">
<rect x="2" y="2" width="756" height="1"/>
<rect x="2" y="2" width="1" height="454"/>
<rect x="2" y="455" width="756" height="1"/>
<rect x="2" y="457" width="756" height="1"/>
<rect x="2" y="457" width="1" height="123"/>
<rect x="2" y="579" width="756" height="1"/>
<rect x="757" y="2" width="1" height="454"/><rect x="757" y="457" width="1" height="123"/>
<rect x="757" y="23" width="3" height="1"/>
<rect x="757" y="56" width="3" height="1"/>
<rect x="757" y="89" width="3" height="1"/>
<rect x="757" y="122" width="3" height="1"/>
<rect x="757" y="155" width="3" height="1"/>
<rect x="757" y="188" width="3" height="1"/>
<rect x="757" y="221" width="3" height="1"/>
<rect x="757" y="254" width="3" height="1"/>
<rect x="757" y="287" width="3" height="1"/>
<rect x="757" y="320" width="3" height="1"/>
<rect x="757" y="353" width="3" height="1"/>
<rect x="757" y="386" width="3" height="1"/>
<rect x="757" y="419" width="3" height="1"/>
<rect x="757" y="452" width="3" height="1"/>
<rect x="757" y="459" width="2" height="1"/>
<rect x="757" y="551" width="2" height="1"/>
<rect x="757" y="578" width="2" height="1"/>
<rect x="3" y="580" width="1" height="3"/>
<rect x="67" y="580" width="1" height="3"/>
<rect x="131" y="580" width="1" height="3"/>
<rect x="195" y="580" width="1" height="3"/>
<rect x="259" y="580" width="1" height="3"/>
<rect x="323" y="580" width="1" height="3"/>
<rect x="387" y="580" width="1" height="3"/>
<rect x="451" y="580" width="1" height="3"/>
<rect x="515" y="580" width="1" height="3"/>
<rect x="579" y="580" width="1" height="3"/>
<rect x="643" y="580" width="1" height="3"/>
<rect x="707" y="580" width="1" height="3"/>
<rect x="6" y="9" width="7" height="1"/><rect x="7" y="10" width="5" height="1"/><rect x="8" y="11" width="3" height="1"/><rect x="9" y="12" width="1" height="1"/>
</g>
<text x="763.2" y="27" transform="matrix(1 0 0 1 0 0)" textLength="33" lengthAdjust="spacing">1.21580</text>
<text x="763.2" y="60" transform="matrix(1 0 0 1 0 0)" textLength="33" lengthAdjust="spacing">1.21180</text>
<text x="763.2" y="93" transform="matrix(1 0 0 1 0 0)" textLength="33" lengthAdjust="spacing">1.20780</text>
<text x="763.2" y="126" transform="matrix(1 0 0 1 0 0)" textLength="33" lengthAdjust="spacing">1.20370</text>
<text x="763.2" y="159" transform="matrix(1 0 0 1 0 0)" textLength="33" lengthAdjust="spacing">1.19970</text>
<text x="763.2" y="192" transform="matrix(1 0 0 1 0 0)" textLength="33" lengthAdjust="spacing">1.19560</text>
<text x="763.2" y="225" transform="matrix(1 0 0 1 0 0)" textLength="33" lengthAdjust="spacing">1.19160</text>
<text x="763.2" y="258" transform="matrix(1 0 0 1 0 0)" textLength="33" lengthAdjust="spacing">1.18760</text>
<text x="763.2" y="291" transform="matrix(1 0 0 1 0 0)" textLength="33" lengthAdjust="spacing">1.18360</text>
<text x="763.2" y="324" transform="matrix(1 0 0 1 0 0)" textLength="33" lengthAdjust="spacing">1.17960</text>
<text x="763.2" y="357" transform="matrix(1 0 0 1 0 0)" textLength="33" lengthAdjust="spacing">1.17560</text>
<text x="763.2" y="390" transform="matrix(1 0 0 1 0 0)" textLength="33" lengthAdjust="spacing">1.17150</text>
<text x="763.2" y="423" transform="matrix(1 0 0 1 0 0)" textLength="33" lengthAdjust="spacing">1.16750</text>
<text x="763.2" y="456" transform="matrix(1 0 0 1 0 0)" textLength="33" lengthAdjust="spacing">1.16350</text>
<text x="760.8" y="468" transform="matrix(1 0 0 1 0 0)" textLength="38" lengthAdjust="spacing">0.006561</text>
<text x="760.8" y="555" transform="matrix(1 0 0 1 0 0)" textLength="18" lengthAdjust="spacing">0.00</text>
<text x="760.8" y="576" transform="matrix(1 0 0 1 0 0)" textLength="41" lengthAdjust="spacing">-0.001994</text>
<rect x="759" y="13" width="41" height="11" fill="#006400" shape-rendering="crispEdges"/>
<text x="763.2" y="22" transform="matrix(1 0 0 1 0 0)" textLength="33" lengthAdjust="spacing" style="fill:#fff;stroke:#fff">1.21630</text>
<rect x="759" y="39" width="41" height="11" fill="#006400" shape-rendering="crispEdges"/>
<text x="763.2" y="48" transform="matrix(1 0 0 1 0 0)" textLength="33" lengthAdjust="spacing" style="fill:#fff;stroke:#fff">1.21310</text>
<rect x="759" y="54" width="41" height="11" fill="#006400" shape-rendering="crispEdges"/>
<text x="763.2" y="63" transform="matrix(1 0 0 1 0 0)" textLength="33" lengthAdjust="spacing" style="fill:#fff;stroke:#fff">1.21130</text>
<rect x="759" y="136" width="41" height="11" fill="#000" shape-rendering="crispEdges"/>
<text x="763.2" y="145" transform="matrix(1 0 0 1 0 0)" textLength="33" lengthAdjust="spacing" style="fill:#fff;stroke:#fff">1.20145</text>
<rect x="759" y="158" width="41" height="11" fill="#ff0000" shape-rendering="crispEdges"/>
<text x="763.2" y="167" transform="matrix(1 0 0 1 0 0)" textLength="33" lengthAdjust="spacing" style="fill:#fff;stroke:#fff">1.19860</text>
<rect x="759" y="184" width="41" height="11" fill="#ff0000" shape-rendering="crispEdges"/>
<text x="763.2" y="193" transform="matrix(1 0 0 1 0 0)" textLength="33" lengthAdjust="spacing" style="fill:#fff;stroke:#fff">1.19540</text>
<rect x="759" y="214" width="41" height="11" fill="#ff0000" shape-rendering="crispEdges"/>
<text x="763.2" y="223" transform="matrix(1 0 0 1 0 0)" textLength="33" lengthAdjust="spacing" style="fill:#fff;stroke:#fff">1.19180</text>
<text x="18" y="14" transform="matrix(1 0 0 1 0 0)" textLength="54" lengthAdjust="spacing">EURUSD,H1</text>
<text x="77.9" y="14" transform="matrix(1 0 0 1 0 0)" textLength="33" lengthAdjust="spacing">1.20248</text>
<text x="113.9" y="14" transform="matrix(1 0 0 1 0 0)" textLength="33" lengthAdjust="spacing">1.20280</text>
<text x="149.9" y="14" transform="matrix(1 0 0 1 0 0)" textLength="33" lengthAdjust="spacing">1.20114</text>
<text x="185.9" y="14" transform="matrix(1 0 0 1 0 0)" textLength="33" lengthAdjust="spacing">1.20145</text>
<text x="7" y="470" transform="matrix(1 0 0 1 0 0)" textLength="29" lengthAdjust="spacing">MACD</text>
<text x="36" y="470" transform="matrix(1 0 0 1 0 0)" textLength="32" lengthAdjust="spacing">(5,34,5)</text>
<text x="71.3" y="470" transform="matrix(1 0 0 1 0 0)" textLength="41" lengthAdjust="spacing">-0.001605</text>
<text x="115.3" y="470" transform="matrix(1 0 0 1 0 0)" textLength="41" lengthAdjust="spacing">-0.001002</text>
<text x="2.2" y="592" transform="matrix(1 0 0 1 0 0)" textLength="10" lengthAdjust="spacing">22</text>
<text x="15.5" y="592" transform="matrix(1 0 0 1 0 0)" textLength="16" lengthAdjust="spacing">Dec</text>
<text x="34.400000000000006" y="592" transform="matrix(1 0 0 1 0 0)" textLength="20" lengthAdjust="spacing">2017</text>
<text x="66.2" y="592" transform="matrix(1 0 0 1 0 0)" textLength="10" lengthAdjust="spacing">26</text>
<text x="79.5" y="592" transform="matrix(1 0 0 1 0 0)" textLength="16" lengthAdjust="spacing">Dec</text>
<text x="98.4" y="592" transform="matrix(1 0 0 1 0 0)" textLength="23" lengthAdjust="spacing">19:00</text>
<text x="130.2" y="592" transform="matrix(1 0 0 1 0 0)" textLength="10" lengthAdjust="spacing">27</text>
<text x="143.5" y="592" transform="matrix(1 0 0 1 0 0)" textLength="16" lengthAdjust="spacing">Dec</text>
<text x="162.39999999999998" y="592" transform="matrix(1 0 0 1 0 0)" textLength="23" lengthAdjust="spacing">11:00</text>
<text x="194.2" y="592" transform="matrix(1 0 0 1 0 0)" textLength="10" lengthAdjust="spacing">28</text>
<text x="207.5" y="592" transform="matrix(1 0 0 1 0 0)" textLength="16" lengthAdjust="spacing">Dec</text>
<text x="226.39999999999998" y="592" transform="matrix(1 0 0 1 0 0)" textLength="23" lengthAdjust="spacing">03:00</text>
<text x="258.2" y="592" transform="matrix(1 0 0 1 0 0)" textLength="10" lengthAdjust="spacing">28</text>
<text x="271.5" y="592" transform="matrix(1 0 0 1 0 0)" textLength="16" lengthAdjust="spacing">Dec</text>
<text x="290.4" y="592" transform="matrix(1 0 0 1 0 0)" textLength="23" lengthAdjust="spacing">19:00</text>
<text x="322.2" y="592" transform="matrix(1 0 0 1 0 0)" textLength="10" lengthAdjust="spacing">29</text>
<text x="335.5" y="592" transform="matrix(1 0 0 1 0 0)" textLength="16" lengthAdjust="spacing">Dec</text>
<text x="354.4" y="592" transform="matrix(1 0 0 1 0 0)" textLength="23" lengthAdjust="spacing">11:00</text>
<text x="386.2" y="592" transform="matrix(1 0 0 1 0 0)" textLength="5" lengthAdjust="spacing">2</text>
<text x="394.5" y="592" transform="matrix(1 0 0 1 0 0)" textLength="14" lengthAdjust="spacing">Jan</text>
<text x="411.4" y="592" transform="matrix(1 0 0 1 0 0)" textLength="23" lengthAdjust="spacing">16:00</text>
<text x="450.2" y="592" transform="matrix(1 0 0 1 0 0)" textLength="5" lengthAdjust="spacing">3</text>
<text x="458.5" y="592" transform="matrix(1 0 0 1 0 0)" textLength="14" lengthAdjust="spacing">Jan</text>
<text x="475.4" y="592" transform="matrix(1 0 0 1 0 0)" textLength="23" lengthAdjust="spacing">08:00</text>
<text x="514.2" y="592" transform="matrix(1 0 0 1 0 0)" textLength="5" lengthAdjust="spacing">4</text>
<text x="522.5" y="592" transform="matrix(1 0 0 1 0 0)" textLength="14" lengthAdjust="spacing">Jan</text>
<text x="539.4000000000001" y="592" transform="matrix(1 0 0 1 0 0)" textLength="23" lengthAdjust="spacing">00:00</text>
<text x="578.2" y="592" transform="matrix(1 0 0 1 0 0)" textLength="5" lengthAdjust="spacing">4</text>
<text x="586.5" y="592" transform="matrix(1 0 0 1 0 0)" textLength="14" lengthAdjust="spacing">Jan</text>
<text x="603.4000000000001" y="592" transform="matrix(1 0 0 1 0 0)" textLength="23" lengthAdjust="spacing">16:00</text>
<text x="642.2" y="592" transform="matrix(1 0 0 1 0 0)" textLength="5" lengthAdjust="spacing">5</text>
<text x="650.5" y="592" transform="matrix(1 0 0 1 0 0)" textLength="14" lengthAdjust="spacing">Jan</text>
<text x="667.4000000000001" y="592" transform="matrix(1 0 0 1 0 0)" textLength="23" lengthAdjust="spacing">08:00</text>
<text x="706.2" y="592" transform="matrix(1 0 0 1 0 0)" textLength="5" lengthAdjust="spacing">8</text>
<text x="714.5" y="592" transform="matrix(1 0 0 1 0 0)" textLength="14" lengthAdjust="spacing">Jan</text>
<text x="731.4000000000001" y="592" transform="matrix(1 0 0 1 0 0)" textLength="23" lengthAdjust="spacing">01:00</text>
</svg></body></html>
